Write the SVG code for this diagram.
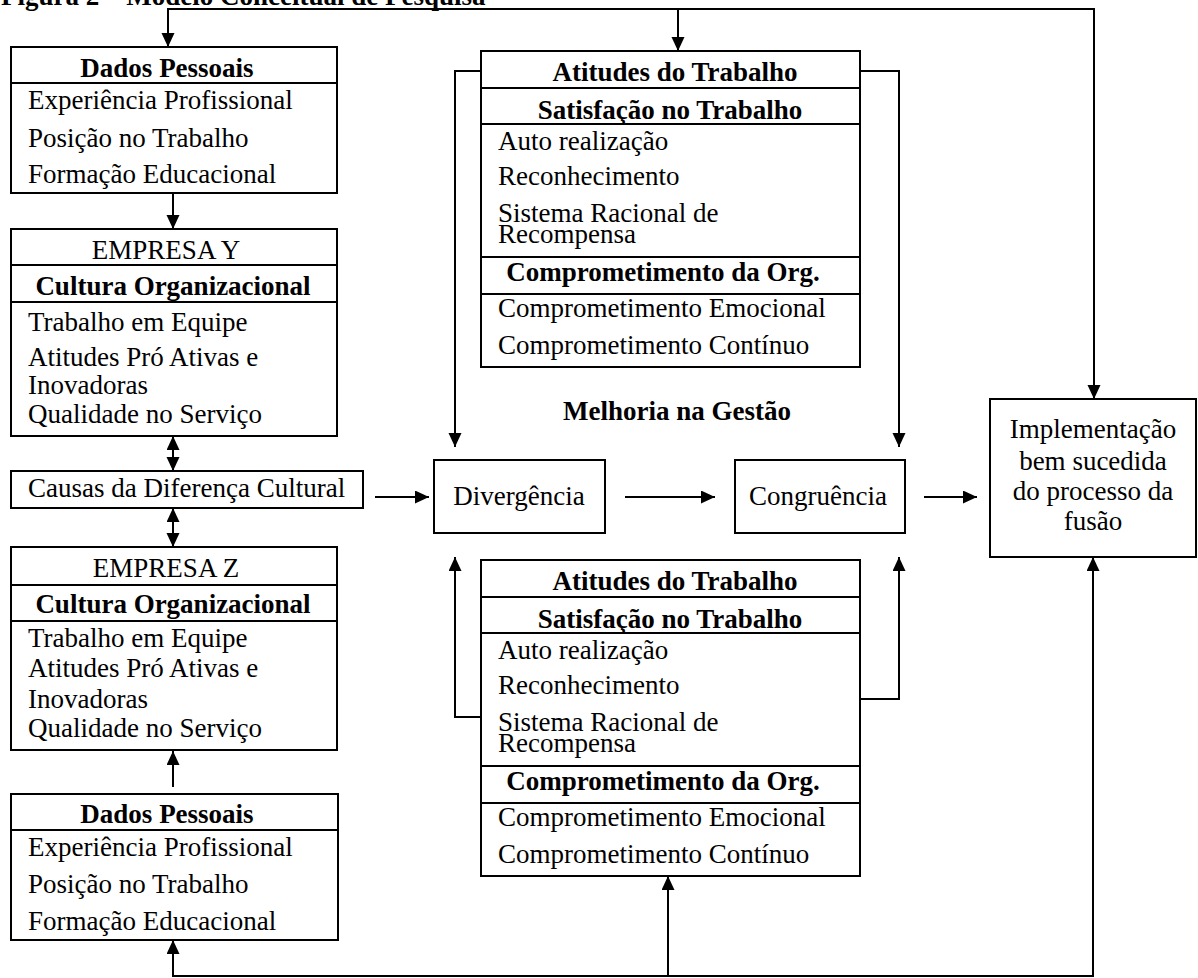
<svg xmlns="http://www.w3.org/2000/svg" width="1198" height="978" viewBox="0 0 1198 978">
<style>
.box{fill:#fff;stroke:#000;stroke-width:2}
.dv{stroke:#000;stroke-width:2}
.t{font-family:"Liberation Serif","Times New Roman",serif;font-size:27px;fill:#000}
.b{font-weight:bold}
.c{text-anchor:middle}
.ln{fill:none;stroke:#000;stroke-width:2}
</style>
<defs>
<marker id="ah" markerUnits="userSpaceOnUse" markerWidth="15" markerHeight="14" refX="14" refY="6.5" orient="auto-start-reverse" viewBox="0 0 15 14">
<path d="M0,0 L14,6.5 L0,13 Z" fill="#000"/>
</marker>
</defs>
<rect width="1198" height="978" fill="#fff"/>
<text class="t b" x="1" y="5" font-size="26">Figura 2 – Modelo Conceitual de Pesquisa</text>

<g id="connectors">
<path class="ln" d="M168,47 V9 H1094 V399" marker-start="url(#ah)" marker-end="url(#ah)"/>
<path class="ln" d="M678,9 V51" marker-end="url(#ah)"/>
<path class="ln" d="M173,193 V229" marker-end="url(#ah)"/>
<path class="ln" d="M173,436 V471" marker-start="url(#ah)" marker-end="url(#ah)"/>
<path class="ln" d="M173,508 V547" marker-start="url(#ah)" marker-end="url(#ah)"/>
<path class="ln" d="M173,787 V751" marker-end="url(#ah)"/>
<path class="ln" d="M173,940 V976 H1093 V557" marker-start="url(#ah)" marker-end="url(#ah)"/>
<path class="ln" d="M668,976 V876" marker-end="url(#ah)"/>
<path class="ln" d="M375,497 H429" marker-end="url(#ah)"/>
<path class="ln" d="M625,497 H715" marker-end="url(#ah)"/>
<path class="ln" d="M924,497 H977" marker-end="url(#ah)"/>
<path class="ln" d="M481,71 H455 V447" marker-end="url(#ah)"/>
<path class="ln" d="M860,71 H899 V447" marker-end="url(#ah)"/>
<path class="ln" d="M481,717 H455 V557" marker-end="url(#ah)"/>
<path class="ln" d="M860,699 H899 V557" marker-end="url(#ah)"/>
</g>

<g id="dados-top">
<rect class="box" x="11" y="47" width="326" height="146"/>
<line class="dv" x1="11" y1="83" x2="337" y2="83"/>
<text class="t b c" x="167" y="77">Dados Pessoais</text>
<text class="t" x="28" y="109">Experiência Profissional</text>
<text class="t" x="28" y="147">Posição no Trabalho</text>
<text class="t" x="28" y="183">Formação Educacional</text>
</g>

<g id="empresa-y">
<rect class="box" x="11" y="229" width="326" height="207"/>
<line class="dv" x1="11" y1="265" x2="337" y2="265"/>
<line class="dv" x1="11" y1="302" x2="337" y2="302"/>
<text class="t c" x="166" y="259">EMPRESA Y</text>
<text class="t b c" x="173" y="295">Cultura Organizacional</text>
<text class="t" x="28" y="331">Trabalho em Equipe</text>
<text class="t" x="28" y="366">Atitudes Pró Ativas e</text>
<text class="t" x="28" y="394">Inovadoras</text>
<text class="t" x="28" y="423">Qualidade no Serviço</text>
</g>

<g id="causas">
<rect class="box" x="11" y="471" width="352" height="37"/>
<text class="t" x="28" y="497">Causas da Diferença Cultural</text>
</g>

<g id="empresa-z">
<rect class="box" x="11" y="547" width="326" height="203"/>
<line class="dv" x1="11" y1="585" x2="337" y2="585"/>
<line class="dv" x1="11" y1="621" x2="337" y2="621"/>
<text class="t c" x="166" y="577">EMPRESA Z</text>
<text class="t b c" x="173" y="613">Cultura Organizacional</text>
<text class="t" x="28" y="647">Trabalho em Equipe</text>
<text class="t" x="28" y="677">Atitudes Pró Ativas e</text>
<text class="t" x="28" y="708">Inovadoras</text>
<text class="t" x="28" y="737">Qualidade no Serviço</text>
</g>

<g id="dados-bottom">
<rect class="box" x="11" y="794" width="327" height="146"/>
<line class="dv" x1="11" y1="830" x2="338" y2="830"/>
<text class="t b c" x="167" y="823">Dados Pessoais</text>
<text class="t" x="28" y="856">Experiência Profissional</text>
<text class="t" x="28" y="893">Posição no Trabalho</text>
<text class="t" x="28" y="930">Formação Educacional</text>
</g>

<g id="atitudes-top">
<rect class="box" x="481" y="51" width="379" height="316"/>
<line class="dv" x1="481" y1="88" x2="860" y2="88"/>
<line class="dv" x1="481" y1="124" x2="860" y2="124"/>
<line class="dv" x1="481" y1="257" x2="860" y2="257"/>
<line class="dv" x1="481" y1="294" x2="860" y2="294"/>
<text class="t b c" x="675" y="81">Atitudes do Trabalho</text>
<text class="t b c" x="670" y="119">Satisfação no Trabalho</text>
<text class="t" x="498" y="150">Auto realização</text>
<text class="t" x="498" y="185">Reconhecimento</text>
<text class="t" x="498" y="222">Sistema Racional de</text>
<text class="t" x="498" y="243">Recompensa</text>
<text class="t b c" x="663" y="281">Comprometimento da Org.</text>
<text class="t" x="498" y="317">Comprometimento Emocional</text>
<text class="t" x="498" y="354">Comprometimento Contínuo</text>
</g>

<g id="melhoria">
<text class="t b c" x="677" y="420">Melhoria na Gestão</text>
</g>

<g id="divergencia">
<rect class="box" x="434" y="460" width="171" height="73"/>
<text class="t c" x="519" y="505">Divergência</text>
</g>

<g id="congruencia">
<rect class="box" x="735" y="460" width="170" height="73"/>
<text class="t c" x="818" y="505">Congruência</text>
</g>

<g id="implementacao">
<rect class="box" x="990" y="399" width="206" height="158"/>
<text class="t c" x="1093" y="438">Implementação</text>
<text class="t c" x="1093" y="470">bem sucedida</text>
<text class="t c" x="1093" y="500">do processo da</text>
<text class="t c" x="1093" y="530">fusão</text>
</g>

<g id="atitudes-bottom">
<rect class="box" x="481" y="560" width="379" height="316"/>
<line class="dv" x1="481" y1="597" x2="860" y2="597"/>
<line class="dv" x1="481" y1="633" x2="860" y2="633"/>
<line class="dv" x1="481" y1="766" x2="860" y2="766"/>
<line class="dv" x1="481" y1="803" x2="860" y2="803"/>
<text class="t b c" x="675" y="590">Atitudes do Trabalho</text>
<text class="t b c" x="670" y="628">Satisfação no Trabalho</text>
<text class="t" x="498" y="659">Auto realização</text>
<text class="t" x="498" y="694">Reconhecimento</text>
<text class="t" x="498" y="731">Sistema Racional de</text>
<text class="t" x="498" y="752">Recompensa</text>
<text class="t b c" x="663" y="790">Comprometimento da Org.</text>
<text class="t" x="498" y="826">Comprometimento Emocional</text>
<text class="t" x="498" y="863">Comprometimento Contínuo</text>
</g>
</svg>
